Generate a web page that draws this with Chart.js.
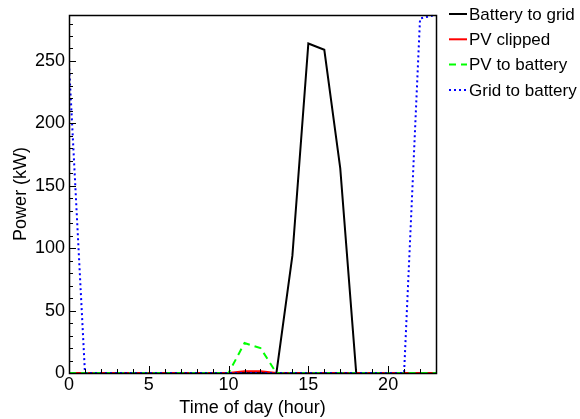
<!DOCTYPE html>
<html>
<head>
<meta charset="utf-8">
<script src="https://cdn.jsdelivr.net/npm/chart.js@4"></script>
<style>
  body { margin: 0; background: #fff; }
  #wrap { width: 580px; height: 419px; }
</style>
</head>
<body>
<div id="wrap"><canvas id="chart1" width="580" height="419"></canvas></div>
<script>
// hours of the day
const hours = [0,1,2,3,4,5,6,7,8,9,10,11,12,13,14,15,16,17,18,19,20,21,22,23];
// series values (kW)
const batteryToGrid = [0,0,0,0,0,0,0,0,0,0,0,0,0,0,94,264,259,164,0,0,0,0,0,0];
const pvClipped     = [0,0,0,0,0,0,0,0,0,0,0,1.5,1.5,0,0,0,0,0,0,0,0,0,0,0];
const pvToBattery   = [0,0,0,0,0,0,0,0,0,0,0,24,20,0,0,0,0,0,0,0,0,0,0,0];
const gridToBattery = [248,0,0,0,0,0,0,0,0,0,0,0,0,0,0,0,0,0,0,0,0,0,284,287];
const seriesNames = ['Battery to grid', 'PV clipped', 'PV to battery', 'Grid to battery'];
const xTicks = [0, 5, 10, 15, 20];
const yTicks = [0, 50, 100, 150, 200, 250];

const FONT = 'Liberation Sans, Arial, sans-serif';

function toPoints(arr) {
    return arr.map(function(v, i) { return { x: hours[i], y: v }; });
}

// inward ticks, box and legend drawn by hand
const framePlugin = {
    id: 'frame',
    afterDatasetsDraw: function(chart) {
        const ctx = chart.ctx;
        const a = chart.chartArea;
        const xs = chart.scales.x, ys = chart.scales.y;
        ctx.save();
        ctx.strokeStyle = '#000';
        ctx.lineWidth = 1;
        ctx.beginPath();
        for (let h = 0; h <= 23; h++) {
            const px = Math.round(xs.getPixelForValue(h)) + 0.5;
            const len = (h % 5 === 0) ? 7 : 4;
            ctx.moveTo(px, a.bottom); ctx.lineTo(px, a.bottom - len);
        }
        for (let v = 0; v <= 280; v += 10) {
            const py = Math.round(ys.getPixelForValue(v)) + 0.5;
            const len = (v % 50 === 0) ? 7 : 4;
            ctx.moveTo(a.left, py); ctx.lineTo(a.left + len, py);
        }
        ctx.stroke();
        ctx.lineWidth = 1.5;
        ctx.strokeRect(Math.round(a.left) + 0.5, Math.round(a.top) + 0.5,
            Math.round(a.right - a.left), Math.round(a.bottom - a.top));

        // legend
        ctx.font = '17px ' + FONT;
        ctx.textBaseline = 'middle';
        chart.data.datasets.forEach(function(ds, i) {
            const y = 14 + i * 25.3;
            ctx.strokeStyle = ds.borderColor;
            ctx.lineWidth = 2;
            ctx.setLineDash(ds.borderDash || []);
            ctx.beginPath();
            ctx.moveTo(449, y); ctx.lineTo(467, y);
            ctx.stroke();
            ctx.setLineDash([]);
            ctx.fillStyle = '#000';
            ctx.fillText(ds.label, 469, y + 1);
        });
        ctx.restore();
    }
};

new Chart(document.getElementById('chart1'), {
    type: 'line',
    data: {
        datasets: [
            { label: seriesNames[0], data: toPoints(batteryToGrid), borderColor: '#000000', borderWidth: 2, order: 3 },
            { label: seriesNames[1], data: toPoints(pvClipped), borderColor: '#ff0000', borderWidth: 2, order: 2 },
            { label: seriesNames[2], data: toPoints(pvToBattery), borderColor: '#00ff00', borderWidth: 2, borderDash: [7, 5], order: 1 },
            { label: seriesNames[3], data: toPoints(gridToBattery), borderColor: '#0000ff', borderWidth: 2, borderDash: [2, 3], order: 0 }
        ]
    },
    options: {
        responsive: false,
        animation: false,
        layout: { padding: { top: 13, right: 144, left: 0, bottom: 0 } },
        elements: { point: { radius: 0 }, line: { tension: 0 } },
        plugins: { legend: { display: false }, tooltip: { enabled: false } },
        scales: {
            x: {
                type: 'linear', min: 0, max: 23,
                grid: { display: false, drawTicks: false },
                border: { display: false },
                afterBuildTicks: function(s) { s.ticks = xTicks.map(function(v) { return { value: v }; }); },
                afterFit: function(s) { s.height = 46; },
                ticks: { color: '#000', font: { family: FONT, size: 18 }, padding: 1, maxRotation: 0 },
                title: { display: true, text: 'Time of day (hour)', color: '#000', font: { family: FONT, size: 18 }, padding: { top: 0, bottom: 0 } }
            },
            y: {
                min: 0, max: 287,
                grid: { display: false, drawTicks: false },
                border: { display: false },
                afterBuildTicks: function(s) { s.ticks = yTicks.map(function(v) { return { value: v }; }); },
                afterFit: function(s) { s.width = 69; },
                ticks: { color: '#000', font: { family: FONT, size: 18 }, padding: 4 },
                title: { display: true, text: 'Power (kW)', color: '#000', font: { family: FONT, size: 18 }, padding: { top: 10, bottom: 0 } }
            }
        }
    },
    plugins: [framePlugin]
});
</script>
</body>
</html>
